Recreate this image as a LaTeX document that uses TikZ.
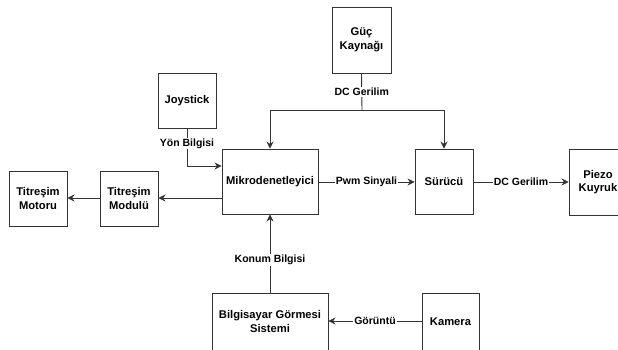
\documentclass[tikz,border=0pt]{standalone}
\usepackage{fontspec}
\setmainfont{Liberation Sans}
\usetikzlibrary{arrows.meta}
\definecolor{ln}{HTML}{333333}
\tikzset{
  blk/.style={draw=ln, line width=0.9pt, fill=white, inner sep=0pt, align=center,
    font=\fontsize{11.2pt}{13.5pt}\selectfont\bfseries},
  con/.style={draw=ln, line width=0.9pt},
  arr/.style={con, -{Stealth[length=7pt,width=7pt]}},
  lbl/.style={fill=white, inner sep=1pt, font=\fontsize{10.5pt}{12pt}\selectfont\bfseries}
}
\newcommand{\bx}[6]{\node[blk, minimum width=#4pt-#2pt, minimum height=#5pt-#3pt] (#1) at ({(#2+#4)/2},{(#3+#5)/2}) {#6};}
\begin{document}
\begin{tikzpicture}[x=1pt,y=-1pt]
\useasboundingbox (0,0) rectangle (618,349);
\bx{guc}{332}{7}{391}{73}{Güç\\Kaynağı}
\bx{joy}{158}{73}{216}{128}{Joystick}
\bx{mik}{222}{149}{318}{214}{Mikrodenetleyici}
\bx{mod}{100}{171}{158}{226}{Titreşim\\Modulü}
\bx{mot}{9}{171}{67}{226}{Titreşim\\Motoru}
\bx{sur}{415}{149}{473}{214}{Sürücü}
\bx{pie}{569}{149}{627}{215}{Piezo\\Kuyruk}
\bx{bgs}{212}{293}{328}{350}{Bilgisayar Görmesi\\Sistemi}
\bx{kam}{422}{293}{479}{350}{Kamera}
\coordinate (j) at (362,110);
\coordinate (jl) at (270,110);
\coordinate (jr) at (444,110);
\draw[con] (guc.south) -- (j) node[lbl, pos=0.5] {DC Gerilim};
\draw[arr] (j) -- (jl) -- (jl |- mik.north);
\draw[arr] (j) -- (jr) -- (jr |- sur.north);
\coordinate (jy) at (187,166);
\draw[arr] (joy.south -| jy) -- (jy) node[lbl, pos=0.4] {Yön Bilgisi} -- (jy -| mik.west);
\draw[arr] (mik.west |- 0,198) -- (mod.east |- 0,198);
\draw[arr] (mod.west |- 0,198) -- (mot.east |- 0,198);
\draw[arr] (mik.east |- 0,182) -- node[lbl] {Pwm Sinyali} (sur.west |- 0,182);
\draw[arr] (sur.east |- 0,182) -- node[lbl] {DC Gerilim} (pie.west |- 0,182);
\draw[arr] (bgs.north -| 270,0) -- node[lbl, pos=0.42] {Konum Bilgisi} (mik.south -| 270,0);
\draw[arr] (kam.west |- 0,321) -- node[lbl, pos=0.5] {Görüntü} (bgs.east |- 0,321);
\end{tikzpicture}
\end{document}
